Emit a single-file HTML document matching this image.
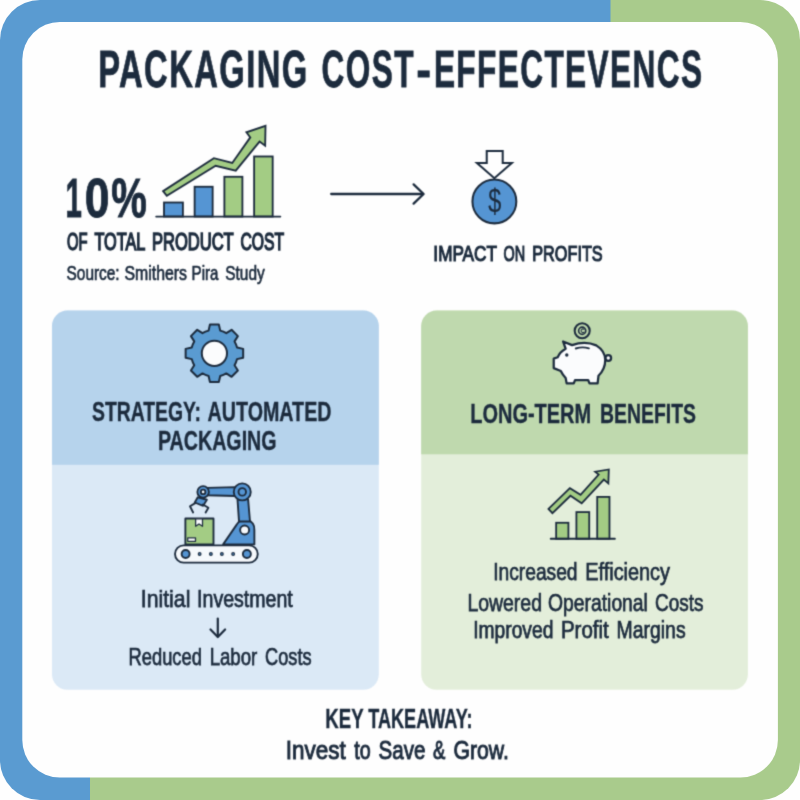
<!DOCTYPE html>
<html lang="en"><head><meta charset="utf-8"><title>Packaging Cost-Effectiveness</title>
<style>
html,body{margin:0;padding:0;background:#fff;}
body{width:800px;height:800px;overflow:hidden;}
svg{display:block;}
text{font-family:"Liberation Sans",Arial,sans-serif;fill:#1c2b3d;}
</style></head><body>
<svg width="800" height="800" viewBox="0 0 800 800">
<defs><clipPath id="outer"><rect x="0" y="0" width="800" height="800" rx="40" ry="40"/></clipPath>
<filter id="soft" x="30" y="30" width="740" height="740" filterUnits="userSpaceOnUse" color-interpolation-filters="sRGB"><feConvolveMatrix order="3" kernelMatrix="0.028 0.111 0.028 0.111 0.444 0.111 0.028 0.111 0.028" divisor="1" edgeMode="duplicate" preserveAlpha="false"/></filter></defs>
<rect width="800" height="800" fill="#fefefe"/>
<g clip-path="url(#outer)">
<polygon points="609,0 800,0 800,800 89,800 89,760 609,40" fill="#a9cb8c"/>
<polygon points="0,0 610.5,0 610.5,40 90,760 90,800 0,800" fill="#5a9bd1"/>
</g>
<rect x="22.3" y="22" width="755.6" height="755.6" rx="37.5" ry="37.5" fill="#fefefe"/>

<g filter="url(#soft)">
<text y="87.0" font-size="51" font-weight="700" letter-spacing="2.2" stroke="#1c2b3d" stroke-width="0.8"><tspan x="98.23" textLength="210.37" lengthAdjust="spacingAndGlyphs">PACKAGING</tspan> <tspan x="321.60" textLength="93.20" lengthAdjust="spacingAndGlyphs">COST</tspan><tspan x="416.16" textLength="16.74" lengthAdjust="spacingAndGlyphs">-</tspan><tspan x="433.88" textLength="269.52" lengthAdjust="spacingAndGlyphs">EFFECTEVENCS</tspan></text>
<text y="216.5" font-size="55.5" font-weight="700" stroke="#1c2b3d" stroke-width="0.9"><tspan x="65.50" textLength="16.37" lengthAdjust="spacingAndGlyphs">1</tspan><tspan x="84.69" textLength="24.79" lengthAdjust="spacingAndGlyphs">0</tspan><tspan x="111.35" textLength="35.55" lengthAdjust="spacingAndGlyphs">%</tspan></text>
<g transform="translate(150,115) scale(0.17501)" stroke="#1c2b3d" stroke-width="10.5" stroke-linejoin="miter">
<rect x="80" y="500" width="108" height="80" fill="#5595d3"/>
<rect x="255" y="410" width="103" height="170" fill="#5595d3"/>
<rect x="425" y="353" width="103" height="227" fill="#a3cc84"/>
<rect x="595" y="237" width="106" height="343" fill="#a3cc84"/>
<line x1="35" y1="580" x2="745" y2="580" stroke-width="10" stroke-linecap="round"/>
<polygon points="75,435 365,247 470,274 573,128 551,99 660,62 658,176 626,152 490,318 375,290 96,462" fill="#a3cc84"/>
</g>
<text y="250.4" font-size="23.7" font-weight="400" stroke="#1c2b3d" stroke-width="1.5"><tspan x="66.95" textLength="20.49" lengthAdjust="spacingAndGlyphs">OF</tspan> <tspan x="94.40" textLength="50.37" lengthAdjust="spacingAndGlyphs">TOTAL</tspan> <tspan x="151.90" textLength="81.53" lengthAdjust="spacingAndGlyphs">PRODUCT</tspan> <tspan x="240.45" textLength="43.66" lengthAdjust="spacingAndGlyphs">COST</tspan></text>
<text y="279.6" font-size="20.8" font-weight="400" stroke="#1c2b3d" stroke-width="0.7"><tspan x="66.55" textLength="53.11" lengthAdjust="spacingAndGlyphs">Source:</tspan> <tspan x="124.43" textLength="62.59" lengthAdjust="spacingAndGlyphs">Smithers</tspan> <tspan x="191.61" textLength="26.84" lengthAdjust="spacingAndGlyphs">Pira</tspan> <tspan x="225.25" textLength="39.43" lengthAdjust="spacingAndGlyphs">Study</tspan></text>
<g fill="none" stroke="#1c2b3d" stroke-width="2.3" stroke-linecap="round" stroke-linejoin="round"><path d="M331.2,194 H423"/><path d="M413.6,184.4 L423.6,194 L413.6,203.6"/></g>
<g transform="translate(455,140) scale(0.11252)" stroke="#1c2b3d" stroke-width="18" stroke-linejoin="miter">
<circle cx="350" cy="546" r="195" fill="#5595d3"/>
<polygon points="282,98 424,98 424,205 505,205 350,340 195,205 282,205" fill="#fefefe"/>
</g>
<text y="212.0" font-size="33.5" font-weight="400" stroke="#1c2b3d" stroke-width="0.2"><tspan x="488.25" textLength="13.03" lengthAdjust="spacingAndGlyphs">$</tspan></text>
<text y="261.0" font-size="22.5" font-weight="400" stroke="#1c2b3d" stroke-width="1.2"><tspan x="433.36" textLength="63.23" lengthAdjust="spacingAndGlyphs">IMPACT</tspan> <tspan x="503.42" textLength="21.66" lengthAdjust="spacingAndGlyphs">ON</tspan> <tspan x="532.27" textLength="70.38" lengthAdjust="spacingAndGlyphs">PROFITS</tspan></text>
<defs><clipPath id="lp"><rect x="52" y="310.6" width="326.8" height="379.2" rx="15.5" ry="15.5"/></clipPath><clipPath id="rp"><rect x="421.2" y="310.6" width="326.7" height="379.2" rx="15.5" ry="15.5"/></clipPath></defs>
<g clip-path="url(#lp)"><rect x="51" y="310" width="330" height="381" fill="#dbe9f6"/><rect x="51" y="310" width="330" height="154.8" fill="#b6d3ec"/></g>
<g clip-path="url(#rp)"><rect x="420" y="310" width="330" height="381" fill="#e3eeda"/><rect x="420" y="310" width="330" height="144.3" fill="#bfd9ae"/></g>
<path d="M208.58,330.64 L209.96,324.54 L218.84,324.54 L220.22,330.64 A23.40,23.40 0 0 1 226.31,333.16 L231.60,329.82 L237.88,336.10 L234.54,341.39 A23.40,23.40 0 0 1 237.06,347.48 L243.16,348.86 L243.16,357.74 L237.06,359.12 A23.40,23.40 0 0 1 234.54,365.21 L237.88,370.50 L231.60,376.78 L226.31,373.44 A23.40,23.40 0 0 1 220.22,375.96 L218.84,382.06 L209.96,382.06 L208.58,375.96 A23.40,23.40 0 0 1 202.49,373.44 L197.20,376.78 L190.92,370.50 L194.26,365.21 A23.40,23.40 0 0 1 191.74,359.12 L185.64,357.74 L185.64,348.86 L191.74,347.48 A23.40,23.40 0 0 1 194.26,341.39 L190.92,336.10 L197.20,329.82 L202.49,333.16 A23.40,23.40 0 0 1 208.58,330.64Z" fill="#5a9bd1" stroke="#1c2b3d" stroke-width="2" stroke-linejoin="round"/>
<circle cx="214.4" cy="353.3" r="12.6" fill="#fbfcfd" stroke="#1c2b3d" stroke-width="2"/>
<text y="420.9" font-size="28.2" font-weight="700" stroke="#1c2b3d" stroke-width="0.4"><tspan x="91.96" textLength="109.06" lengthAdjust="spacingAndGlyphs">STRATEGY:</tspan> <tspan x="207.52" textLength="124.00" lengthAdjust="spacingAndGlyphs">AUTOMATED</tspan></text>
<text y="449.8" font-size="28.2" font-weight="700" stroke="#1c2b3d" stroke-width="0.4"><tspan x="157.90" textLength="118.70" lengthAdjust="spacingAndGlyphs">PACKAGING</tspan></text>
<g transform="translate(165,475) scale(0.125)" stroke="#1c2b3d" stroke-width="15" stroke-linejoin="round" stroke-linecap="round">
<path d="M465,555 L575,395 A75,75 0 0 1 715,440 L715,555 Z" fill="#5595d3"/>
<circle cx="637" cy="440" r="36" fill="#f6f9fc"/>
<path d="M580,195 L665,195 L680,372 L592,372 Z" fill="#5595d3"/>
<path d="M335,103 L565,97 L565,168 L335,162 Z" fill="#5595d3"/>
<path d="M262,178 L335,198 L305,247 L238,220 Z" fill="#5595d3"/>
<circle cx="618" cy="135" r="68" fill="#5595d3"/><circle cx="618" cy="135" r="30" fill="#5595d3"/>
<circle cx="305" cy="135" r="46" fill="#5595d3"/><circle cx="305" cy="135" r="18" fill="#f6f9fc"/>
<path d="M242,225 L200,250 L225,300" fill="none"/><path d="M303,236 L347,262 L325,300" fill="none"/>
<rect x="163" y="348" width="225" height="207" fill="#a3cc84"/>
<path d="M245,350 L300,350 L300,410 L272,392 L245,410 Z" fill="#fbfcfd" stroke-width="10"/>
<rect x="182" y="502" width="62" height="28" fill="#fbfcfd" stroke-width="10"/>
<rect x="80" y="563" width="662" height="138" rx="69" ry="69" fill="#f6f9fc"/>
<circle cx="165" cy="632" r="32" fill="#5595d3"/><circle cx="655" cy="632" r="32" fill="#5595d3"/>
<circle cx="277" cy="632" r="11" fill="#5595d3" stroke-width="9"/>
<circle cx="367" cy="632" r="11" fill="#5595d3" stroke-width="9"/>
<circle cx="455" cy="632" r="11" fill="#5595d3" stroke-width="9"/>
<circle cx="545" cy="632" r="11" fill="#5595d3" stroke-width="9"/>
</g>
<text y="606.6" font-size="24" font-weight="400" stroke="#1c2b3d" stroke-width="0.75"><tspan x="140.82" textLength="49.53" lengthAdjust="spacingAndGlyphs">Initial</tspan> <tspan x="197.07" textLength="95.70" lengthAdjust="spacingAndGlyphs">Investment</tspan></text>
<g fill="none" stroke="#1c2b3d" stroke-width="2.2" stroke-linecap="round" stroke-linejoin="round"><path d="M217.8,618.5 V636.5"/><path d="M210.5,629.5 L217.8,637 L225.1,629.5"/></g>
<text y="665.2" font-size="23.8" font-weight="400" stroke="#1c2b3d" stroke-width="0.75"><tspan x="128.57" textLength="73.33" lengthAdjust="spacingAndGlyphs">Reduced</tspan> <tspan x="209.65" textLength="47.59" lengthAdjust="spacingAndGlyphs">Labor</tspan> <tspan x="265.05" textLength="46.53" lengthAdjust="spacingAndGlyphs">Costs</tspan></text>
<g transform="translate(540,315) scale(0.11250)" stroke="#1c2b3d" stroke-width="20" stroke-linejoin="round" stroke-linecap="round">
<circle cx="375" cy="140" r="67" fill="#bfd9ae" stroke-width="18"/>
<circle cx="375" cy="140" r="32" fill="#bfd9ae" stroke-width="14"/>
<path d="M392,128 A16,16 0 1 0 392,152" fill="none" stroke-width="9"/>
<circle cx="607" cy="382" r="25" fill="#fbfcfd"/>
<path d="M205,235 L285,268 Q400,225 500,270 Q580,320 580,400 Q580,480 520,540 L512,608 L440,608 L428,578 L312,578 L300,608 L237,608 L228,560 Q200,530 185,498 L122,472 L122,388 L157,376 Q175,330 228,300 Z" fill="#fbfcfd"/>
<path d="M318,298 Q375,278 435,296" fill="none" stroke-width="17"/>
<circle cx="238" cy="355" r="9" fill="#1c2b3d" stroke-width="12"/>
</g>
<text y="422.6" font-size="28.4" font-weight="700" stroke="#1c2b3d" stroke-width="0.4"><tspan x="470.26" textLength="120.87" lengthAdjust="spacingAndGlyphs">LONG-TERM</tspan> <tspan x="600.10" textLength="95.85" lengthAdjust="spacingAndGlyphs">BENEFITS</tspan></text>
<g transform="translate(535,460) scale(0.11250)" stroke="#1c2b3d" stroke-width="16" stroke-linejoin="miter">
<rect x="188" y="558" width="109" height="142" fill="#a3cc84"/>
<rect x="368" y="463" width="114" height="237" fill="#a3cc84"/>
<rect x="553" y="328" width="109" height="372" fill="#a3cc84"/>
<line x1="140" y1="700" x2="710" y2="700" stroke-width="17" stroke-linecap="round"/>
<polygon points="120,435 310,250 405,310 566,130 535,104 656,84 652,208 612,174 415,385 315,318 155,472" fill="#a3cc84"/>
</g>
<text y="579.9" font-size="24.2" font-weight="400" stroke="#1c2b3d" stroke-width="0.75"><tspan x="493.20" textLength="84.36" lengthAdjust="spacingAndGlyphs">Increased</tspan> <tspan x="585.35" textLength="84.61" lengthAdjust="spacingAndGlyphs">Efficiency</tspan></text>
<text y="610.7" font-size="24.2" font-weight="400" stroke="#1c2b3d" stroke-width="0.75"><tspan x="467.38" textLength="74.60" lengthAdjust="spacingAndGlyphs">Lowered</tspan> <tspan x="548.06" textLength="99.86" lengthAdjust="spacingAndGlyphs">Operational</tspan> <tspan x="655.11" textLength="48.50" lengthAdjust="spacingAndGlyphs">Costs</tspan></text>
<text y="638.3" font-size="23.3" font-weight="400" stroke="#1c2b3d" stroke-width="0.75"><tspan x="473.20" textLength="80.16" lengthAdjust="spacingAndGlyphs">Improved</tspan> <tspan x="560.89" textLength="47.88" lengthAdjust="spacingAndGlyphs">Profit</tspan> <tspan x="616.58" textLength="69.04" lengthAdjust="spacingAndGlyphs">Margins</tspan></text>
<text y="727.6" font-size="28" font-weight="700" stroke="#1c2b3d" stroke-width="0.4"><tspan x="325.37" textLength="37.93" lengthAdjust="spacingAndGlyphs">KEY</tspan> <tspan x="368.31" textLength="104.13" lengthAdjust="spacingAndGlyphs">TAKEAWAY:</tspan></text>
<text y="758.5" font-size="26.5" font-weight="400" stroke="#1c2b3d" stroke-width="1.0"><tspan x="285.73" textLength="59.94" lengthAdjust="spacingAndGlyphs">Invest</tspan> <tspan x="354.20" textLength="16.43" lengthAdjust="spacingAndGlyphs">to</tspan> <tspan x="378.57" textLength="46.85" lengthAdjust="spacingAndGlyphs">Save</tspan> <tspan x="433.05" textLength="12.34" lengthAdjust="spacingAndGlyphs">&amp;</tspan> <tspan x="453.45" textLength="55.44" lengthAdjust="spacingAndGlyphs">Grow.</tspan></text>
</g>
</svg></body></html>
